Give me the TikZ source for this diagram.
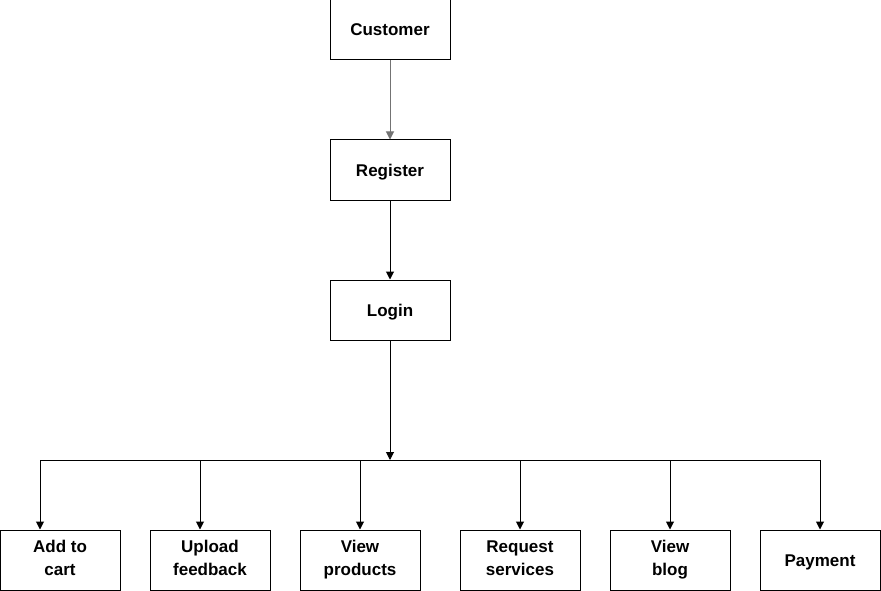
\documentclass[tikz,border=0pt]{standalone}
\usepackage{fontspec}
\setmainfont{Liberation Sans}
\usepackage{tikz}
\newcommand{\boxstrut}{\rule[-4pt]{0pt}{20pt}}
\tikzset{box/.style={rectangle,draw,line width=1pt,minimum width=120pt,minimum height=60pt,inner sep=1pt,align=center,font=\fontsize{17}{23}\selectfont\bfseries,execute at begin node={\boxstrut},execute at end node={\boxstrut}}}
\tikzset{flow/.style={-{Triangle[length=8pt,width=8pt]},line width=1pt}}
\usetikzlibrary{arrows.meta}

\begin{document}
\begin{tikzpicture}[x=1pt,y=-1pt]
    \useasboundingbox (0,0) rectangle (881,591);
    \node[box] (cust) at (390,30) {Customer};
    \node[box] (reg) at (390,170) {Register};
    \node[box] (login) at (390,310) {Login};
    \draw[flow,draw=black!55,fill=black!55] (cust) -- (reg);
    \draw[flow] (reg) -- (login);
    \node[box] (cart) at (60,560) {Add to\\cart};
    \node[box] (feed) at (210,560) {Upload\\feedback};
    \node[box] (prod) at (360,560) {View\\products};
    \node[box] (serv) at (520,560) {Request\\services};
    \node[box] (blog) at (670,560) {View\\blog};
    \node[box] (pay) at (820,560) {Payment};
    \coordinate (bus) at (390,460);
    \coordinate (busL) at (40,460);
    \coordinate (busR) at (820,460);
    \draw[line width=1pt] (busL) -- (busR);
    \draw[flow] (login) -- (bus);
    \draw[flow] (busL) -- (busL |- cart.north);
    \draw[flow] (200,460) -- (200,530 |- feed.north);
    \draw[flow] (prod |- bus) -- (prod);
    \draw[flow] (serv |- bus) -- (serv);
    \draw[flow] (blog |- bus) -- (blog);
    \draw[flow] (busR) -- (pay);
  \end{tikzpicture}
\end{document}
